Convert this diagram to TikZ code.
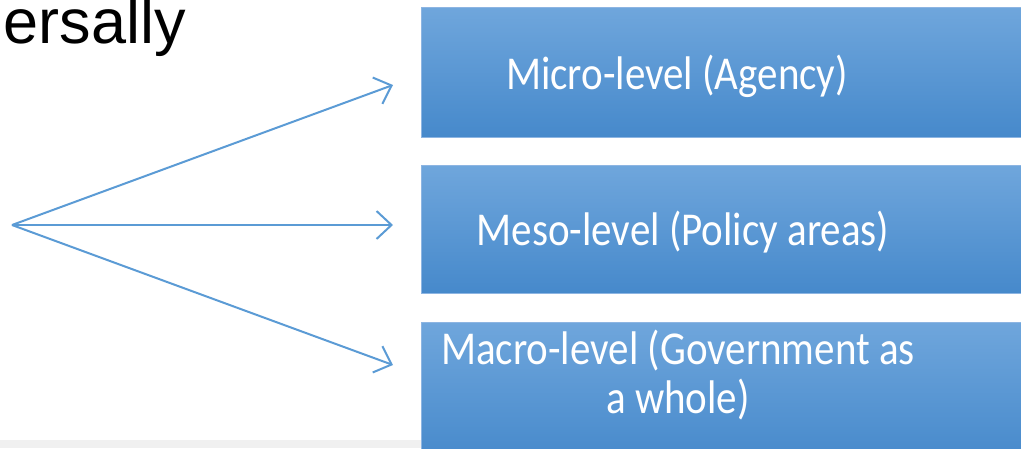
\documentclass[tikz,border=0pt]{standalone}
\usepackage{fontspec}
\usepackage{graphicx}
\setmainfont{Carlito}
\newfontfamily\arialfont{Liberation Sans}
\usetikzlibrary{arrows.meta}
\definecolor{boxtop}{HTML}{6FA6DC}
\definecolor{boxbot}{HTML}{4689CB}
\definecolor{boxedge}{HTML}{8DB5E2}
\definecolor{arrowblue}{HTML}{5B9BD5}
\definecolor{bandgray}{HTML}{F0F0F0}
\newcommand{\lvtxt}[1]{\scalebox{1}[1.15]{\fontsize{41}{41}\selectfont\begin{tabular}[b]{@{}c@{}}#1\end{tabular}}}
\begin{document}
\begin{tikzpicture}[x=1pt,y=1pt,
  levelbox/.style={rectangle, draw=boxedge, line width=0.8pt, top color=boxtop, bottom color=boxbot,
    minimum width=620, inner sep=0, anchor=north west},
  leveltext/.style={text=white, inner sep=0, anchor=base},
  conn/.style={draw=arrowblue, line width=2pt, -{Straight Barb[length=15pt, width=28pt, line width=2pt]}}]
\useasboundingbox (0,0) rectangle (1021,-448);
\clip (0,0) rectangle (1021,-448);
\fill[bandgray] (0,-440) rectangle (421,-448);
\node[anchor=base east, inner sep=0, font=\arialfont\fontsize{63}{70}\selectfont] (title) at (186,-43) {ersally};
\node[levelbox, minimum height=130] (micro) at (421,-7) {};
\node[levelbox, minimum height=128] (meso) at (421,-165) {};
\node[levelbox, minimum height=140] (macro) at (421,-322) {};
\node[leveltext] (microtext) at (677,-89) {\lvtxt{Micro-level (Agency)}};
\node[leveltext] (mesotext) at (683,-245) {\lvtxt{Meso-level (Policy areas)}};
\node[leveltext] (macrotext) at (678,-413) {\lvtxt{Macro-level (Government as\\a whole)}};
\coordinate (src) at (12,-225);
\coordinate (tmicro) at (393,-85);
\coordinate (tmeso) at (393,-225);
\coordinate (tmacro) at (393,-365);
\draw[conn] (src) -- (tmicro);
\draw[conn] (src) -- (tmeso);
\draw[conn] (src) -- (tmacro);
\end{tikzpicture}
\end{document}
